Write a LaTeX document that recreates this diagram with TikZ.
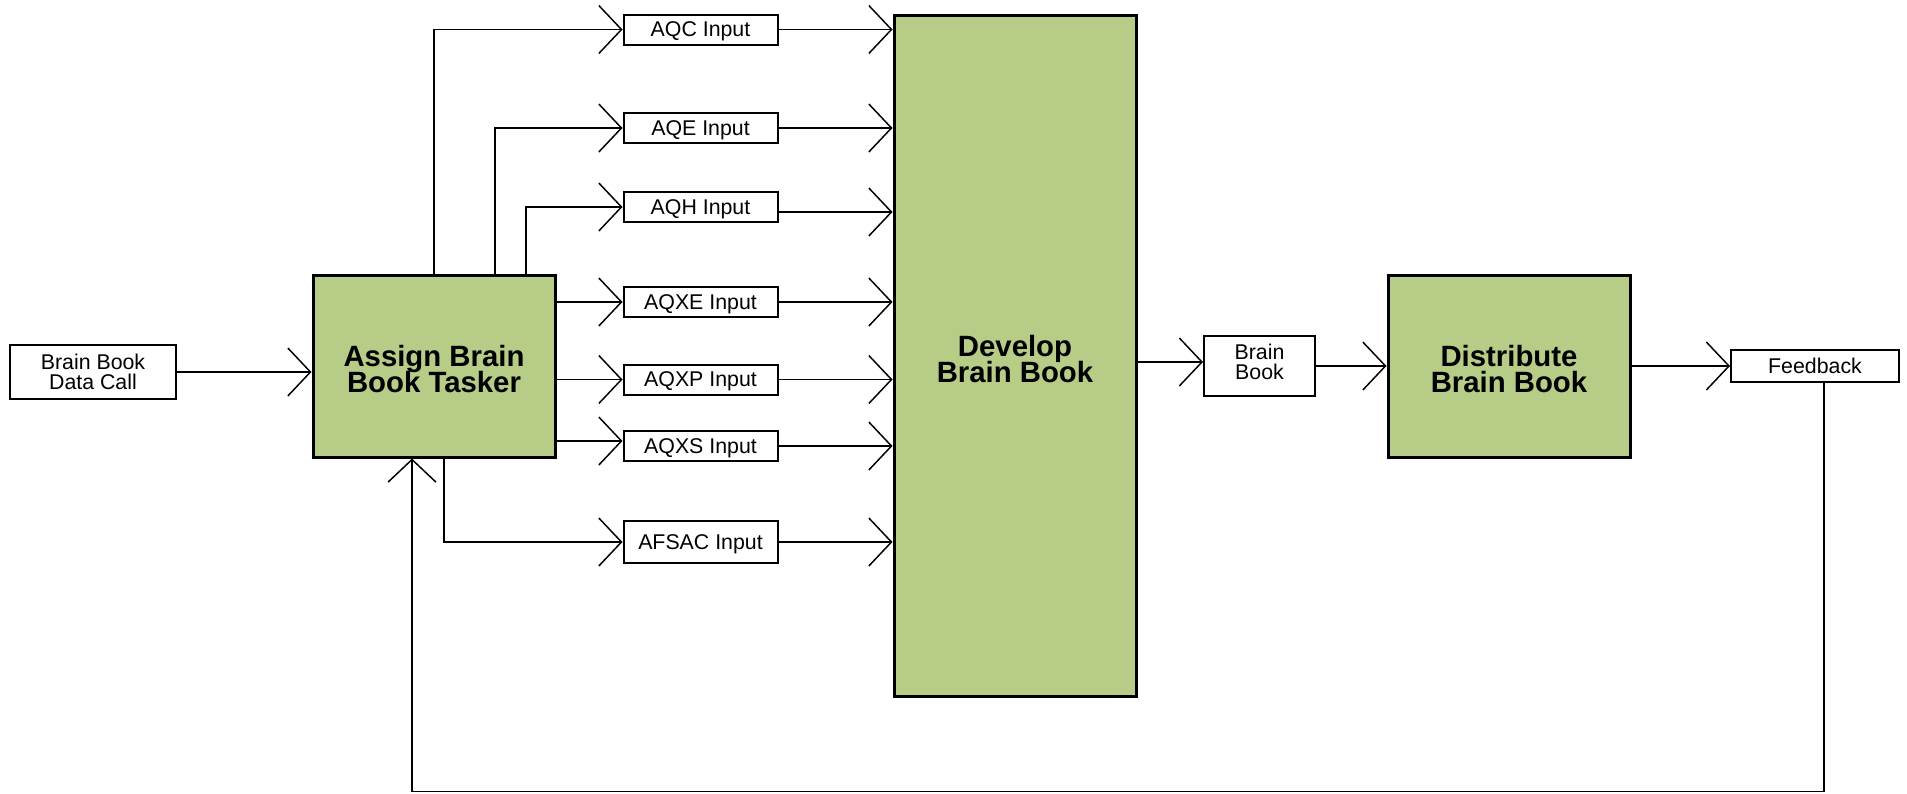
\documentclass[tikz,border=0pt]{standalone}
\usepackage{fontspec}
\setmainfont{Liberation Sans}
\usetikzlibrary{arrows.meta}
\definecolor{taskgreen}{RGB}{183,204,134}

\begin{document}
\setlength{\lineskiplimit}{-20pt}
\begin{tikzpicture}[x=0.75pt,y=-0.75pt,>={Straight Barb[length=17pt,width=36pt]},
  flow/.style={->,line width=1.1pt},
  databox/.style={draw,line width=1.5pt,inner sep=0pt,align=center,text depth=0pt,
    minimum width=115.5pt,minimum height=22.5pt,font=\fontsize{16}{15}\selectfont},
  taskbox/.style={draw,line width=2.25pt,fill=taskgreen,inner sep=0pt,align=center,text height=40.5pt,
    minimum width=181.5pt,minimum height=136.5pt,font=\fontsize{22}{19.5}\selectfont\bfseries}]
  \useasboundingbox (0,0) rectangle (1907,793);

  \node[databox,minimum width=124.5pt,minimum height=40.5pt] (datacall) at (93,372) {Brain Book\\Data Call};
  \node[taskbox] (assign) at (434,366) {Assign Brain\\Book Tasker};
  \node[taskbox,minimum height=510.75pt] (develop) at (1015,355.5) {Develop\\Brain Book};
  \node[databox,text depth=7pt,minimum width=83.25pt,minimum height=45pt] (brainbook) at (1259.5,366) {Brain\\Book};
  \node[taskbox] (distribute) at (1509,366) {Distribute\\Brain Book};
  \node[databox,minimum width=126pt,minimum height=24pt] (feedback) at (1815,366) {Feedback};

  \foreach \name/\txt/\y in {aqc/AQC/29.5,aqe/AQE/128,aqh/AQH/207,aqxe/AQXE/302,aqxp/AQXP/379.5,aqxs/AQXS/446} {
    \node[databox] (\name) at (700.5,\y) {\txt{} Input};
  }
  \node[databox,minimum height=31.5pt] (afsac) at (700.5,542) {AFSAC Input};

  \coordinate (aqxsin) at ([yshift=3.75pt]aqxs.west);
  \coordinate (aqhout) at ([yshift=-3.75pt]aqh.east);
  \coordinate (bookin) at ([yshift=3pt]brainbook.west);

  \draw[flow] (datacall.east) -- (assign.west |- datacall.east);

  \draw[flow] (assign.north) |- (aqc.west);
  \draw[flow] ([xshift=45.75pt]assign.north) |- (aqe.west);
  \draw[flow] ([xshift=69pt]assign.north) |- (aqh.west);
  \draw[flow] (assign.east |- aqxe.west) -- (aqxe.west);
  \draw[flow] (assign.east |- aqxp.west) -- (aqxp.west);
  \draw[flow] (assign.east |- aqxsin) -- (aqxsin);
  \draw[flow] ([xshift=7.5pt]assign.south) |- (afsac.west);

  \foreach \name in {aqc,aqe,aqxe,aqxp,aqxs,afsac} {
    \draw[flow] (\name.east) -- (develop.west |- \name.east);
  }
  \draw[flow] (aqhout) -- (develop.west |- aqhout);

  \draw[flow] (develop.east |- bookin) -- (bookin);
  \draw[flow] (brainbook.east) -- (distribute.west);
  \draw[flow] (distribute.east) -- (feedback.west);

  \coordinate (loopcorner) at (412,791.5);
  \draw[flow] ([xshift=6.75pt]feedback.south) |- (loopcorner) -- (loopcorner |- assign.south);
\end{tikzpicture}
\end{document}
